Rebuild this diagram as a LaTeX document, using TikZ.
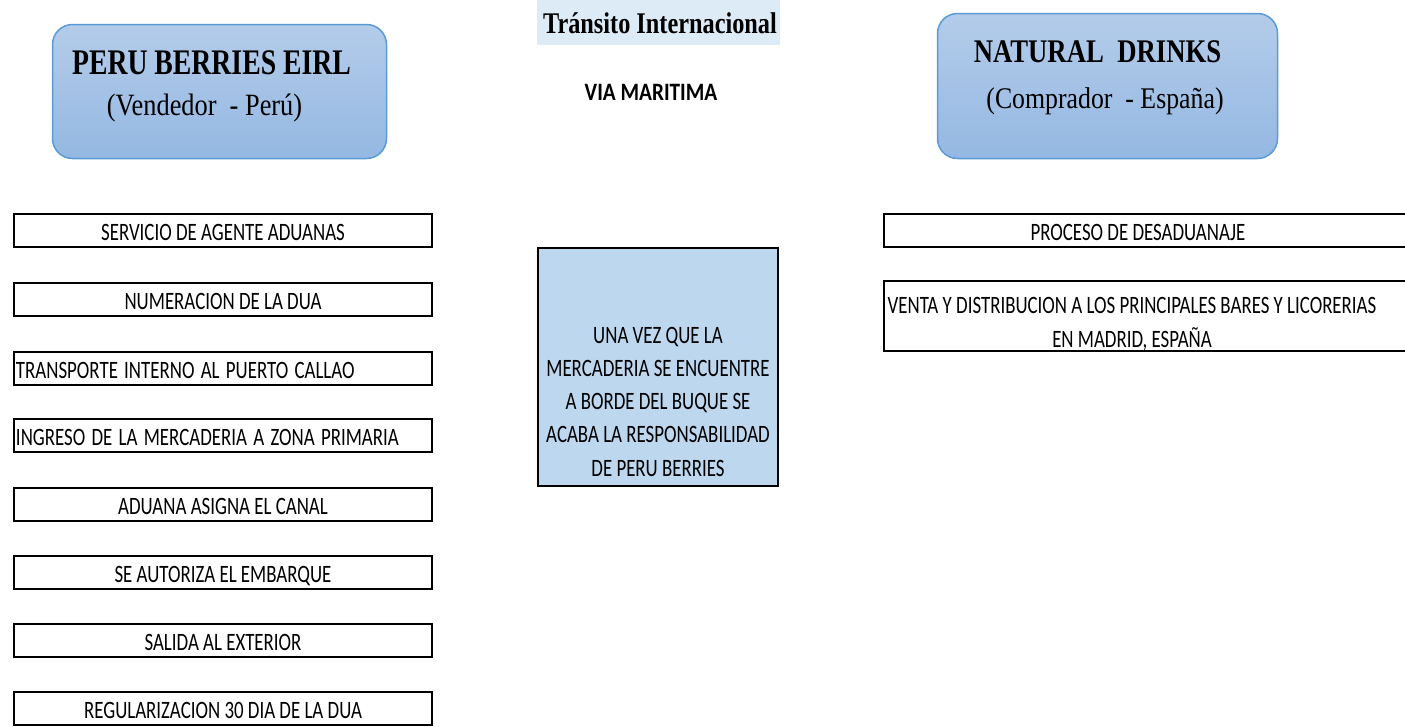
\documentclass[tikz,border=0pt]{standalone}
\usepackage{fontspec}
\usepackage{graphicx}
\usetikzlibrary{shadings}
\newfontfamily\tnr{Liberation Serif}
\newfontfamily\calib{Carlito}
\newcommand{\hs}[2]{\scalebox{#1}[1]{#2}}
\newcommand{\cs}[1]{\scalebox{0.755}[1]{#1}}
\definecolor{ptop}{RGB}{180,204,234}
\definecolor{pbot}{RGB}{148,184,226}
\definecolor{pedge}{RGB}{91,155,213}
\definecolor{tfill}{RGB}{221,235,247}
\definecolor{mfill}{RGB}{189,215,238}
\begin{document}
\begin{tikzpicture}[x=1pt,y=-1pt,
  party/.style={draw=pedge, line width=1.5pt, rounded corners=20pt, top color=ptop, bottom color=pbot, inner sep=0pt},
  stepbox/.style={draw=black, line width=2pt, minimum width=418pt, minimum height=33pt, inner sep=0pt,
    font=\calib\fontsize{25}{29}\selectfont, text height=19pt, text depth=0pt},
  leftstep/.style={stepbox, text width=414pt, align=left},
  rstep/.style={draw=black, line width=2pt, inner sep=0pt},
  midbox/.style={draw=black, line width=2pt, fill=mfill, minimum width=240pt, minimum height=238pt, inner sep=0pt},
  bigname/.style={anchor=base, font=\tnr\bfseries\fontsize{36}{40}\selectfont, inner sep=0pt},
  role/.style={anchor=base, font=\tnr\fontsize{31}{36}\selectfont, inner sep=0pt},
  cal/.style={anchor=base, font=\calib\fontsize{25}{29}\selectfont, inner sep=0pt}
]
\useasboundingbox (0,0) rectangle (1405,726);

% party boxes
\node[party, minimum width=334pt, minimum height=134pt] (seller) at (219.5,91.5) {};
\node[party, minimum width=340pt, minimum height=145pt] (buyer) at (1107.5,86) {};
\node[bigname] (sellername) at (211.5,74) {\hs{0.77}{PERU BERRIES EIRL}};
\node[role] (sellerrole) at (204.5,115) {\hs{0.85}{(Vendedor\ \ - Perú)}};
\node[bigname, font=\tnr\bfseries\fontsize{33}{38}\selectfont] (buyername) at (1097.5,62) {\hs{0.81}{NATURAL\ \ DRINKS}};
\node[role, font=\tnr\fontsize{30}{35}\selectfont] (buyerrole) at (1105,108) {\hs{0.86}{(Comprador\ \ - España)}};

% transit title
\node[fill=tfill, minimum width=243pt, minimum height=45pt, inner sep=0pt] (transit) at (658.5,22.5) {};
\node[bigname, font=\tnr\bfseries\fontsize{30}{34}\selectfont] (transittext) at (660,33) {\hs{0.81}{Tránsito Internacional}};
\node[cal, font=\calib\bfseries\fontsize{25}{29}\selectfont] (via) at (651,100) {\hs{0.85}{VIA MARITIMA}};

% seller steps
\node[stepbox] (s1) at (223,230.5) {\cs{SERVICIO DE AGENTE ADUANAS}};
\node[stepbox] (s2) at (223,299.5) {\cs{NUMERACION DE LA DUA}};
\node[leftstep] (s3) at (223,368.5) {\cs{TRANSPORTE INTERNO AL PUERTO CALLAO}};
\node[leftstep] (s4) at (223,435.5) {\cs{INGRESO DE LA MERCADERIA A ZONA PRIMARIA}};
\node[stepbox] (s5) at (223,504.5) {\cs{ADUANA ASIGNA EL CANAL}};
\node[stepbox] (s6) at (223,572.5) {\cs{SE AUTORIZA EL EMBARQUE}};
\node[stepbox] (s7) at (223,640.5) {\cs{SALIDA AL EXTERIOR}};
\node[stepbox] (s8) at (223,708.5) {\cs{REGULARIZACION 30 DIA DE LA DUA}};

% middle box
\node[midbox] (mid) at (658,367) {};
\node[cal, font=\calib\fontsize{25}{33.25}\selectfont] (midtext) at (658,476) {\cs{\begin{tabular}[b]{@{}c@{}}UNA VEZ QUE LA\\ MERCADERIA SE ENCUENTRE\\ A BORDE DEL BUQUE SE\\ ACABA LA RESPONSABILIDAD\\ DE PERU BERRIES\end{tabular}}};

% buyer steps (open to the right edge)
\node[rstep, minimum width=540pt, minimum height=33pt] (b1) at (1154,230.5) {};
\node[rstep, minimum width=540pt, minimum height=70pt] (b2) at (1154,316) {};
\node[cal] (b1text) at (1138,240) {\cs{PROCESO DE DESADUANAJE}};
\node[cal, font=\calib\fontsize{25}{34}\selectfont] (b2text) at (1132,347) {\cs{\begin{tabular}[b]{@{}c@{}}VENTA Y DISTRIBUCION A LOS PRINCIPALES BARES Y LICORERIAS\\ EN MADRID, ESPAÑA\end{tabular}}};
\end{tikzpicture}
\end{document}
